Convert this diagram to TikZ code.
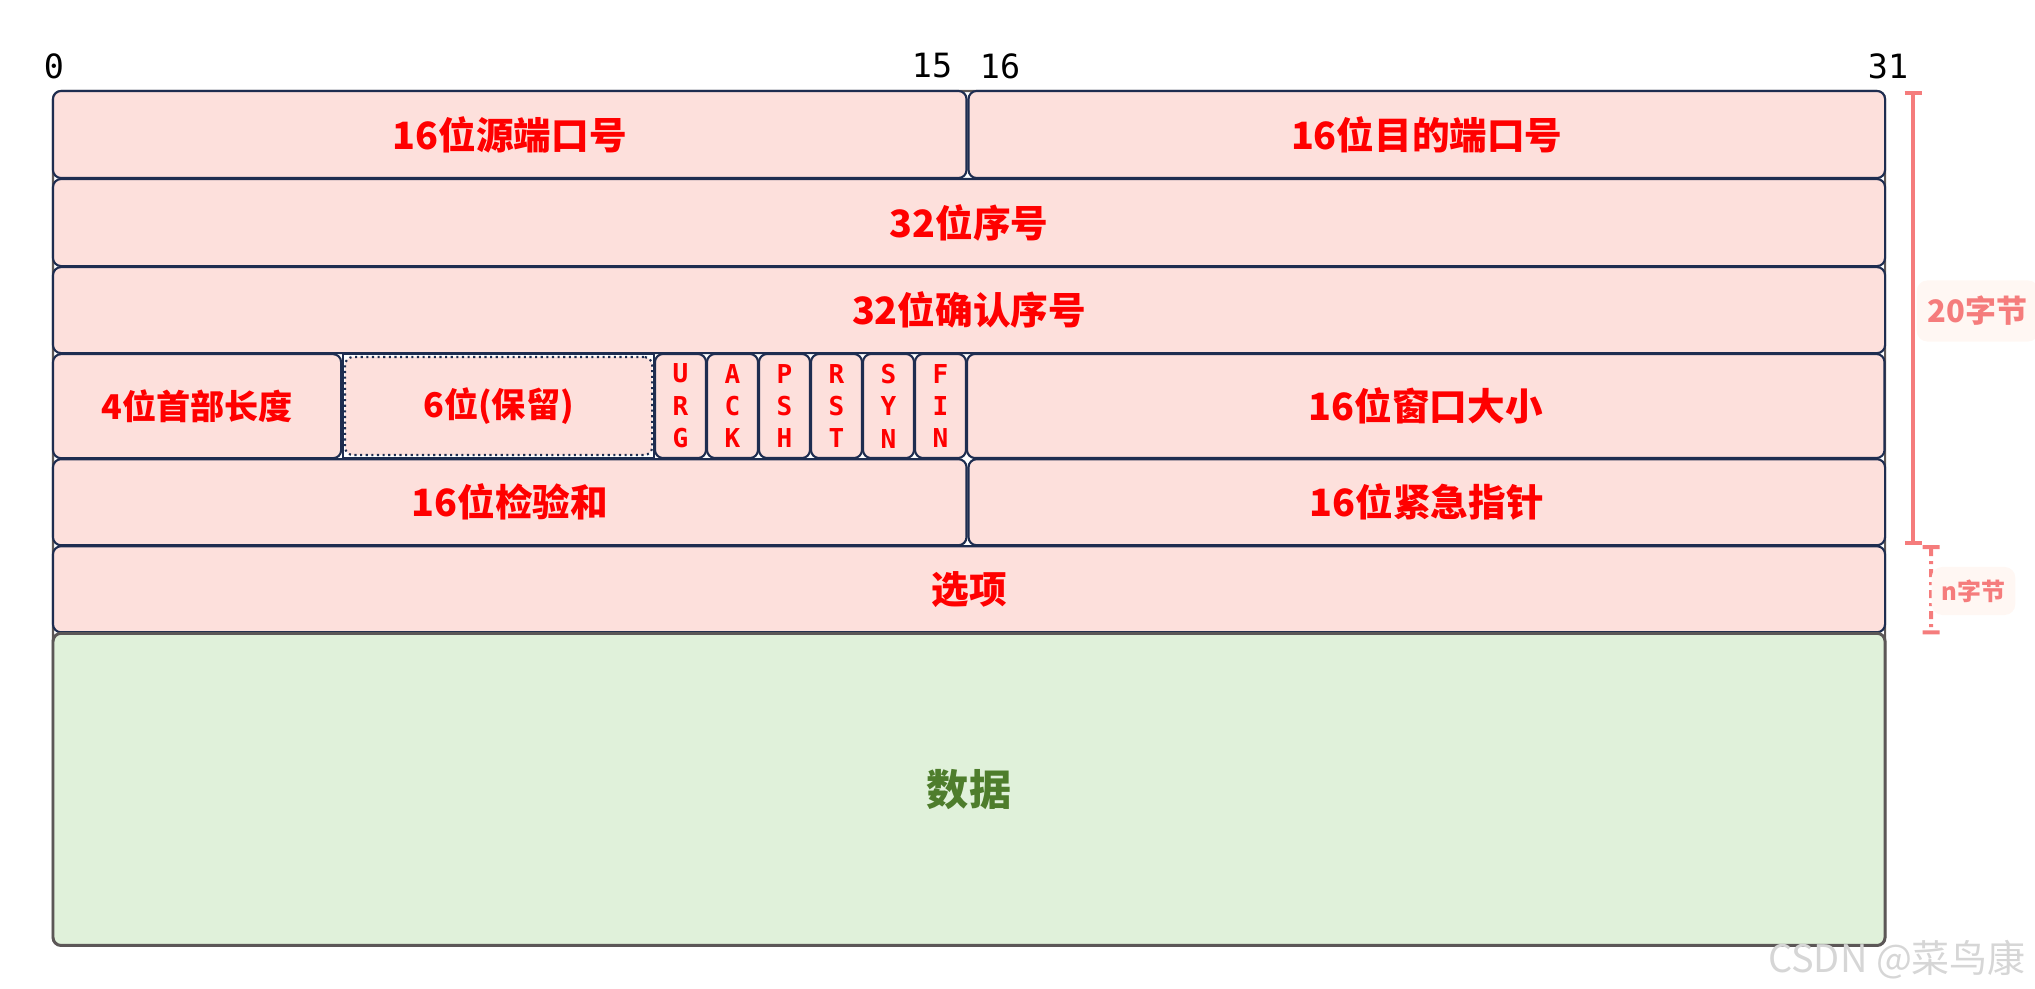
\documentclass[tikz,border=0pt]{standalone}
\usepackage{fontspec}
\usetikzlibrary{
  arrows.meta,
  positioning,
  backgrounds
}
\newfontfamily\cjk{Noto Sans CJK SC}
\newfontfamily\bitfont{DejaVu Sans Mono}
\definecolor{tcpnavy}{HTML}{1E2D50}
\definecolor{tcppink}{HTML}{FDE0DC}
\definecolor{tcpred}{HTML}{FF0000}
\definecolor{tcpgreen}{HTML}{E0F1DA}
\definecolor{tcpolive}{HTML}{4E7D2C}
\definecolor{tcpgrey}{HTML}{5C5757}
\definecolor{tcpsalmon}{HTML}{F57C7C}
\definecolor{tcplabelbg}{HTML}{FFF7F3}
\definecolor{tcpmark}{HTML}{D6D6D6}

\begin{document}
\begin{tikzpicture}[
      x=0.01cm, y=-0.01cm,
      field/.style={
        rectangle, rounded corners=2.3pt,
        draw=tcpnavy, line width=0.6pt, fill=tcppink,
        text=tcpred, font=\cjk\bfseries\fontsize{10.7}{13}\selectfont,
        inner sep=0pt, outer sep=0pt, align=center
      },
      half/.style={field, minimum width=9.13cm, minimum height=0.87cm},
      full/.style={field, minimum width=18.31cm, minimum height=0.86cm},
      small/.style={font=\cjk\bfseries\fontsize{9.7}{12}\selectfont},
      flagbox/.style={
        field, minimum width=0.51cm, minimum height=1.04cm,
        font=\bitfont\bfseries\fontsize{7.4}{9.2}\selectfont
      },
      bitnum/.style={font=\bitfont\fontsize{9.5}{11}\selectfont},
      span/.style={line width=1.1pt, tcpsalmon, {Bar[width=0.17cm]}-{Bar[width=0.17cm]}},
      spanlabel/.style={
        rectangle, rounded corners=3pt, fill=tcplabelbg,
        text=tcpsalmon, anchor=west, inner ysep=0pt
      }
    ]
      \useasboundingbox (0,0) rectangle (2035,989);

      % bit positions
      \node[bitnum] (b0) at (54,66) {0};
      \node[bitnum] (b15) at (932,66) {15};
      \node[bitnum] (b16) at (1000,66) {16};
      \node[bitnum] (b31) at (1888,66) {31};

      % header rows
      \node[half, anchor=north west] (src) at (53,91) {16位源端口号};
      \node[half, minimum width=9.16cm, right=0.02cm of src] (dst) {16位目的端口号};
      \node[full, minimum height=0.87cm, below=0.01cm of src.south west, anchor=north west] (seq) {32位序号};
      \node[full, below=0.01cm of seq.south west, anchor=north west] (ack) {32位确认序号};

      \node[field, small, minimum width=2.88cm, minimum height=1.04cm,
            below=0.01cm of ack.south west, anchor=north west] (hlen) {4位首部长度};
      \node[rectangle, draw=tcpnavy, line width=0.6pt, fill=white,
            minimum width=3.11cm, minimum height=1.04cm, inner sep=0pt, outer sep=0pt,
            anchor=north west] (resvbg) at (343,354) {};
      \node[field, small, densely dotted, minimum width=3.07cm, minimum height=0.98cm]
            (resv) at (resvbg.center) {6位(保留)};
      \foreach \f [count=\i] in {{U\\R\\G},{A\\C\\K},{P\\S\\H},{R\\S\\T},{S\\Y\\N},{F\\I\\N}}
        \node[flagbox, anchor=north west] (flag\i) at ({655+52*(\i-1)},354) {\f};
      \node[field, minimum width=9.17cm, minimum height=1.04cm, anchor=north west]
            (win) at (967,354) {16位窗口大小};

      \node[half, minimum height=0.86cm, below=0.01cm of hlen.south west, anchor=north west] (chk) {16位检验和};
      \node[half, minimum width=9.16cm, minimum height=0.86cm, right=0.02cm of chk] (urg) {16位紧急指针};
      \node[full, below=0.01cm of chk.south west, anchor=north west] (opt) {选项};

      \node[field, draw=tcpgrey, line width=0.85pt, fill=tcpgreen, text=tcpolive,
            font=\cjk\bfseries\fontsize{12}{14}\selectfont,
            minimum width=18.31cm, minimum height=3.12cm,
            below=0.01cm of opt.south west, anchor=north west] (data) {数据};

      \begin{scope}[on background layer]
        \draw[tcpgrey, line width=0.6pt, rounded corners=2.3pt] (src.north west) rectangle (data.south east);
      \end{scope}

      % length markers
      \coordinate (t20) at ([xshift=0.28cm]dst.north east);
      \coordinate (e20) at ([xshift=0.28cm]urg.south east);
      \coordinate (tn) at ([xshift=0.46cm]urg.south east);
      \coordinate (en) at ([xshift=0.46cm,yshift=-0.02cm]opt.south east);
      \draw[span] (t20) -- (e20);
      \draw[span, dash pattern=on 0.08cm off 0.05cm on 0.03cm off 0.05cm] (tn) -- (en);

      \node[spanlabel, minimum width=1.22cm, minimum height=0.61cm, inner xsep=0.1cm,
            font=\cjk\bfseries\fontsize{8.8}{10}\selectfont] (l20) at (1916,311) {20字节};
      \node[spanlabel, minimum width=0.81cm, minimum height=0.48cm, inner xsep=0.1cm,
            font=\cjk\bfseries\fontsize{6.8}{8}\selectfont] (ln) at (1931,591) {n字节};

      \node[font=\cjk\fontsize{10.8}{12}\selectfont, text=tcpmark] (mark) at (1897,960) {CSDN @菜鸟康};
    \end{tikzpicture}
\end{document}
